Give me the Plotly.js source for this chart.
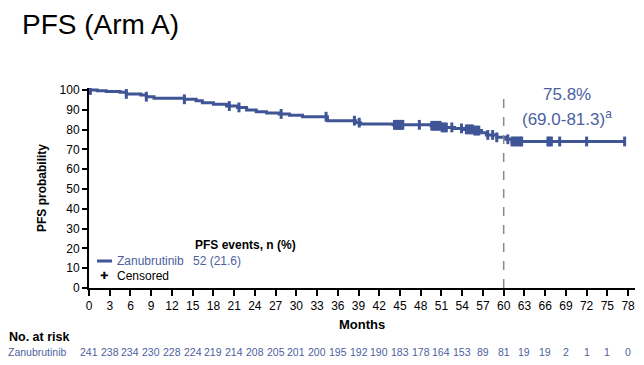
<!DOCTYPE html>
<html>
<head>
<meta charset="utf-8">
<script src="https://cdn.plot.ly/plotly-3.0.1.min.js"></script>
<style>html,body{margin:0;padding:0;background:#fff;}#chart{width:644px;height:365px;}</style>
</head>
<body>
<div id="chart"></div>
<script>
// Kaplan-Meier estimate (months, PFS %)
const kmTime = [0, 1.2, 2.5, 4.5, 5.4, 7.5, 8.3, 9.4, 13.8, 15.5, 16.4, 18.0, 19.9, 21.5, 22.8, 24.2, 25.7, 27.5, 29.0, 30.9, 34.5, 38.6, 39.3, 44.0, 49.5, 51.0, 52.9, 54.3, 55.8, 56.8, 57.5, 59.0, 60.3, 61.2, 77.5];
const kmSurv = [100, 99.6, 99.2, 98.8, 98.0, 97.5, 96.6, 95.8, 95.3, 94.5, 93.6, 92.8, 91.9, 91.2, 89.9, 89.0, 88.4, 87.9, 87.2, 86.5, 84.5, 83.5, 82.8, 82.4, 81.9, 81.1, 80.6, 80.1, 79.5, 78.4, 77.3, 76.1, 75.1, 74.0, 74.0];
// Censored observation times (months)
const censorTimes = [0.2, 5.4, 8.3, 13.8, 20.3, 21.7, 27.8, 34.3, 38.4, 39.1,
  44.2, 44.4, 44.6, 44.8, 45.0, 45.2, 45.4, 47.8,
  49.6, 49.9, 50.2, 50.5, 50.8, 51.1, 51.4, 51.7, 52.5, 53.9,
  54.6, 54.9, 55.2, 55.5, 55.8, 56.1, 56.4, 57.7, 58.4, 59.0,
  60.6, 61.2, 61.5, 61.8, 62.1, 62.4, 62.6, 66.4, 66.6, 66.9, 68.1, 72.0, 77.5];
// Number at risk
const riskTimes = [0,3,6,9,12,15,18,21,24,27,30,33,36,39,42,45,48,51,54,57,60,63,66,69,72,75,78];
const riskCounts = [241,238,234,230,228,224,219,214,208,205,201,200,195,192,190,183,178,164,153,89,81,19,19,2,1,1,0];
const seriesName = "Zanubrutinib";
const eventsText = "52 (21.6)";
const landmarkMonth = 60;
const landmarkText = ["75.8%", "(69.0-81.3)<sup>a</sup>"];
const yTicks = [0,10,20,30,40,50,60,70,80,90,100];

function survAt(t) {
  let s = kmSurv[0];
  for (let i = 0; i < kmTime.length; i++) { if (kmTime[i] <= t) s = kmSurv[i]; }
  return s;
}

const lineColor = "#3f5596";
const textBlue = "#4d5fa0";
const FONT = "Liberation Sans, Arial, sans-serif";

const traces = [
  {x: kmTime, y: kmSurv, type: "scatter", mode: "lines", line: {color: lineColor, width: 3, shape: "hv"}, hoverinfo: "skip", showlegend: false},
  {x: censorTimes, y: censorTimes.map(survAt), type: "scatter", mode: "markers",
   marker: {symbol: "line-ns-open", size: 7, color: lineColor, line: {color: lineColor, width: 3}}, hoverinfo: "skip", showlegend: false}
];

const plotL = 89, plotW = 546, plotB = 288, plotH = 200;
const px = x => (x - plotL) / plotW;
const py = y => (plotB - y) / plotH;

function note(x, y, text, font, xanchor, extra) {
  return Object.assign({xref: "paper", yref: "paper", x: px(x), y: py(y), text: text, showarrow: false,
    xanchor: xanchor || "center", yanchor: "middle", font: font}, extra || {});
}

const annotations = [
  note(42, 188, "<b>PFS probability</b>", {family: FONT, size: 12, color: "#000"}, "center", {textangle: -90}),
  note(362, 324, "<b>Months</b>", {family: FONT, size: 13, color: "#000"}),
  note(7, 337, "<b>No. at risk</b>", {family: FONT, size: 12.5, color: "#000"}, "left"),
  note(6, 352, seriesName, {family: FONT, size: 10.5, color: textBlue}, "left"),
  note(193, 245, "<b>PFS events, n (%)</b>", {family: FONT, size: 12, color: "#000"}, "left"),
  note(115, 261, seriesName, {family: FONT, size: 12, color: textBlue}, "left"),
  note(191, 261, eventsText, {family: FONT, size: 12, color: textBlue}, "left"),
  note(104, 275, "✚", {family: "DejaVu Sans, sans-serif", size: 10, color: "#000"}),
  note(115, 276, "Censored", {family: FONT, size: 12, color: "#000"}, "left"),
  {xref: "x", yref: "y", x: 69.2, y: 97.5, text: landmarkText[0], showarrow: false, xanchor: "center", yanchor: "middle", font: {family: FONT, size: 17, color: textBlue}},
  {xref: "x", yref: "y", x: 69.2, y: 86.0, text: landmarkText[1], showarrow: false, xanchor: "center", yanchor: "middle", font: {family: FONT, size: 17, color: textBlue}}
];
riskTimes.forEach((t, i) => {
  annotations.push({xref: "x", yref: "paper", x: t, y: py(352), text: String(riskCounts[i]), showarrow: false,
    xanchor: "center", yanchor: "middle", font: {family: FONT, size: 10.5, color: textBlue}});
});

const layout = {
  width: 644, height: 365,
  margin: {l: 89, r: 9, t: 88, b: 77},
  paper_bgcolor: "#fff", plot_bgcolor: "#fff",
  title: {text: "PFS (Arm A)", x: 22/644, xanchor: "left", xref: "container", y: 1 - 24/365, yanchor: "middle", yref: "container", font: {family: FONT, size: 28, color: "#000"}},
  xaxis: {range: [0, 79], tickvals: riskTimes, ticktext: riskTimes.map(String), ticks: "outside", ticklen: 6, tickwidth: 2, tickcolor: "#000",
          showline: true, linewidth: 2, linecolor: "#000", showgrid: false, zeroline: false, tickfont: {family: FONT, size: 12, color: "#000"}},
  yaxis: {range: [0, 101], tickvals: yTicks, ticks: "outside", ticklen: 5, tickwidth: 2, tickcolor: "#000",
          showline: true, linewidth: 2, linecolor: "#000", showgrid: false, zeroline: false, tickfont: {family: FONT, size: 12, color: "#000"}},
  shapes: [
    {type: "line", xref: "x", yref: "y", x0: landmarkMonth, x1: landmarkMonth, y0: 0, y1: 98.5, line: {color: "#8a8a8a", width: 1.5, dash: "dash"}},
    {type: "line", xref: "paper", yref: "paper", x0: px(97), x1: px(112), y0: py(261), y1: py(261), line: {color: lineColor, width: 3}}
  ],
  annotations: annotations,
  showlegend: false
};

Plotly.newPlot("chart", traces, layout, {staticPlot: true, displayModeBar: false});
</script>
</body>
</html>
